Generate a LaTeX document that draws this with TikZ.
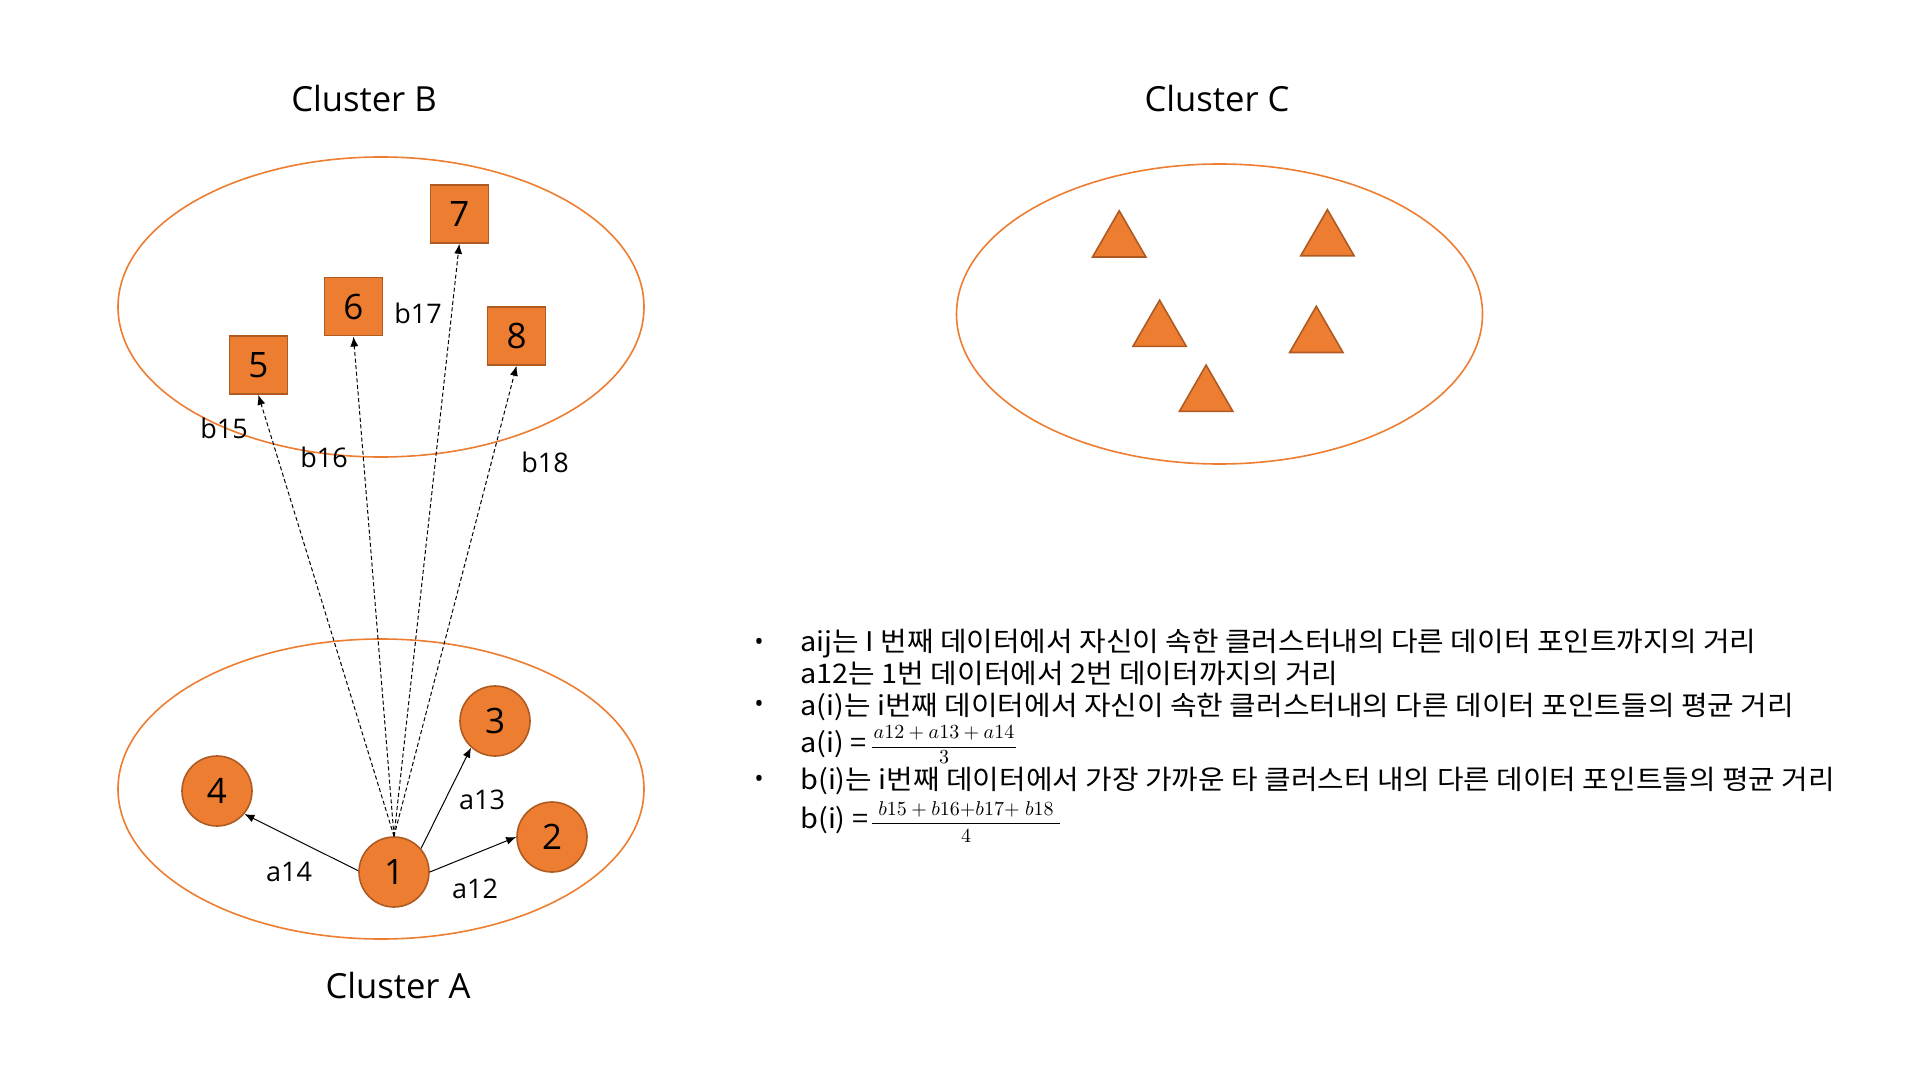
\documentclass[tikz,border=0pt]{standalone}
\usepackage{fontspec}
\usepackage{amsmath}
\setmainfont{Open Sans}
\newfontfamily\kr[FakeStretch=1.07]{Noto Sans CJK KR}
\usetikzlibrary{arrows.meta,shapes.geometric}
\definecolor{org}{HTML}{ED7D31}
\definecolor{orgdk}{HTML}{AE5A21}
\begin{document}
\begin{tikzpicture}[x=0.5pt,y=-0.5pt,
  cluster/.style={ellipse,draw=org,line width=0.8pt,minimum width=263pt,minimum height=150pt,inner sep=0pt},
  ctitle/.style={font=\fontsize{17.3}{20}\selectfont,inner sep=0pt},
  dot/.style={circle,fill=org,draw=orgdk,line width=0.8pt,minimum size=35pt,inner sep=0pt,font=\fontsize{17.5}{20}\selectfont},
  box/.style={rectangle,fill=org,draw=orgdk,line width=0.8pt,minimum size=29pt,inner sep=0pt,font=\fontsize{17.5}{20}\selectfont},
  tri/.style={regular polygon,regular polygon sides=3,fill=org,draw=orgdk,line width=0.8pt,minimum size=30.8pt,inner sep=0pt},
  lbl/.style={font=\fontsize{13.5}{16}\selectfont,inner sep=0pt},
  link/.style={-{Latex[length=5pt,width=4pt]},line width=0.5pt},
  farlink/.style={link,dash pattern=on 2pt off 1.3pt},
  krt/.style={font=\kr\fontsize{13.5}{15}\selectfont,anchor=west,inner sep=0pt},
  bul/.style={font=\fontsize{12.5}{15}\selectfont,inner sep=0pt},
  frac/.style={font=\fontsize{10}{12}\selectfont,inner sep=0pt},
  fracbar/.style={line width=0.5pt}]
\useasboundingbox (0,0) rectangle (1920,1080);

% clusters
\node[cluster] (ellB) at (381,307) {};
\node[cluster] (ellC) at (1219.5,314) {};
\node[cluster] (ellA) at (381,789) {};
\node[ctitle] (tB) at (364,99) {Cluster B};
\node[ctitle] (tC) at (1217,99) {Cluster C};
\node[ctitle] (tA) at (398,986) {Cluster A};

% cluster A points
\node[dot] (c1) at (394,872) {1};
\node[dot] (c2) at (552,837) {2};
\node[dot] (c3) at (495,721) {3};
\node[dot] (c4) at (217,791) {4};

% cluster B points
\node[box] (s5) at (258.3,365) {5};
\node[box] (s6) at (353.5,306.7) {6};
\node[box] (s7) at (459.3,214) {7};
\node[box] (s8) at (516.5,336) {8};

% cluster C points
\node[tri] (t1) at (1119.2,241.6) {};
\node[tri] (t2) at (1327.4,240.4) {};
\node[tri] (t3) at (1159.6,331) {};
\node[tri] (t4) at (1316.3,337.1) {};
\node[tri] (t5) at (1206.1,395.9) {};

% intra-cluster links
\draw[link] (c1.east) -- (c2.west);
\draw[link] (c1.41) -- (c3.228);
\draw[link] (c1.178) -- (c4.-40);
\node[lbl] (la12) at (475,889) {a12};
\node[lbl] (la13) at (482,800) {a13};
\node[lbl] (la14) at (289,872) {a14};

% inter-cluster links
\draw[farlink] (c1.north) -- (s5.south);
\draw[farlink] (c1.north) -- (s6.south);
\draw[farlink] (c1.north) -- (s7.south);
\draw[farlink] (c1.north) -- (s8.south);
\node[lbl] (lb15) at (224,428) {b15};
\node[lbl] (lb16) at (324,457) {b16};
\node[lbl] (lb17) at (418,313.5) {b17};
\node[lbl] (lb18) at (545,462) {b18};

% explanation
\node[bul] (bu1) at (759,644) {•};
\node[krt] (l1) at (800,644) {aij는 I 번째 데이터에서 자신이 속한 클러스터내의 다른 데이터 포인트까지의 거리};
\node[krt] (l2) at (800,673.5) {a12는 1번 데이터에서 2번 데이터까지의 거리};
\node[bul] (bu2) at (759,706.5) {•};
\node[krt] (l3) at (800,706.5) {a(i)는 i번째 데이터에서 자신이 속한 클러스터내의 다른 데이터 포인트들의 평균 거리};
\node[krt] (l4) at (800,744.5) {a(i) =};
\node[frac] (f1n) at (944,733) {$a12+a13+a14$};
\node[frac] (f1d) at (944,757.5) {$3$};
\draw[fracbar] (872,747) -- (1016,747);
\node[bul] (bu3) at (759,781) {•};
\node[krt] (l5) at (800,781) {b(i)는 i번째 데이터에서 가장 가까운 타 클러스터 내의 다른 데이터 포인트들의 평균 거리};
\node[krt] (l6) at (800,820) {b(i) =};
\node[frac] (f2n) at (966,809) {$b15+b16{+}b17{+}\;b18$};
\node[frac] (f2d) at (966,836) {$4$};
\draw[fracbar] (872,823) -- (1060,823);
\end{tikzpicture}
\end{document}
